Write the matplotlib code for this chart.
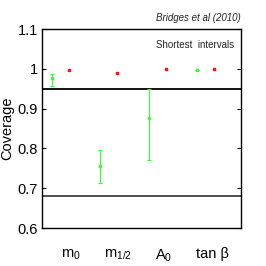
import matplotlib
matplotlib.use("Agg")
import matplotlib.pyplot as plt

plt.rcParams["font.family"] = ["Liberation Sans", "DejaVu Sans"]
plt.rcParams["mathtext.fontset"] = "custom"
plt.rcParams["mathtext.rm"] = "Liberation Sans"
plt.rcParams["mathtext.it"] = "Liberation Sans:italic"
plt.rcParams["mathtext.default"] = "rm"

categories = ["m$_0$", "m$_{1/2}$", "A$_0$", "tan β"]
green_vals = [0.977, 0.756, 0.876, 0.998]
green_lo = [0.958, 0.713, 0.770, 0.998]
green_hi = [0.988, 0.795, 0.948, 0.998]
red_vals = [0.998, 0.990, 1.000, 1.000]
ref_lines = [0.95, 0.68]
yticks = [0.6, 0.7, 0.8, 0.9, 1.0, 1.1]
ytick_labels = ["0.6", "0.7", "0.8", "0.9", "1", "1.1"]

pos = [1, 2, 3, 4]
label_pos = [1.0, 1.97, 2.91, 3.92]

fig = plt.figure(figsize=(2.66, 2.66), dpi=100)
ax = fig.add_axes([42/266, 1-228/266, 199/266, 199/266])

ax.axhline(ref_lines[0], color="black", lw=1.3, zorder=1)
ax.axhline(ref_lines[1], color="#404040", lw=1.3, zorder=1)

gx = [p - 0.4 for p in pos]
rx = [p - 0.05 for p in pos]
yerr = [[v - lo for v, lo in zip(green_vals, green_lo)],
        [hi - v for v, hi in zip(green_vals, green_hi)]]
ax.errorbar(gx, green_vals, yerr=yerr, fmt="s", color="#33ff33", ms=1.8,
            elinewidth=0.8, capsize=1.2, capthick=0.8, zorder=3)
ax.plot(rx, red_vals, "s", color="#ff1111", ms=1.8, zorder=3, ls="none")

ax.set_xlim(0.4, 4.5)
ax.set_ylim(0.6, 1.1)
ax.set_yticks(yticks)
ax.set_yticklabels(ytick_labels, fontsize=10.5)
ax.set_xticks(label_pos)
ax.set_xticklabels(categories, fontsize=10.5)
ax.tick_params(axis="x", length=0, pad=14)
ax.tick_params(axis="y", direction="in", length=3, right=True, pad=3)
for s in ax.spines.values():
    s.set_linewidth(1.0)

ax.set_ylabel("Coverage", fontsize=10.5, labelpad=2)
ax.text(1.0, 1.03, "Bridges et al (2010)", transform=ax.transAxes, ha="right",
        va="bottom", fontsize=7, style="italic", color="#222222")
ax.text(0.965, 0.945, "Shortest  intervals", transform=ax.transAxes, ha="right",
        va="top", fontsize=7, color="#222222")

fig.savefig("out.png", dpi=100)
